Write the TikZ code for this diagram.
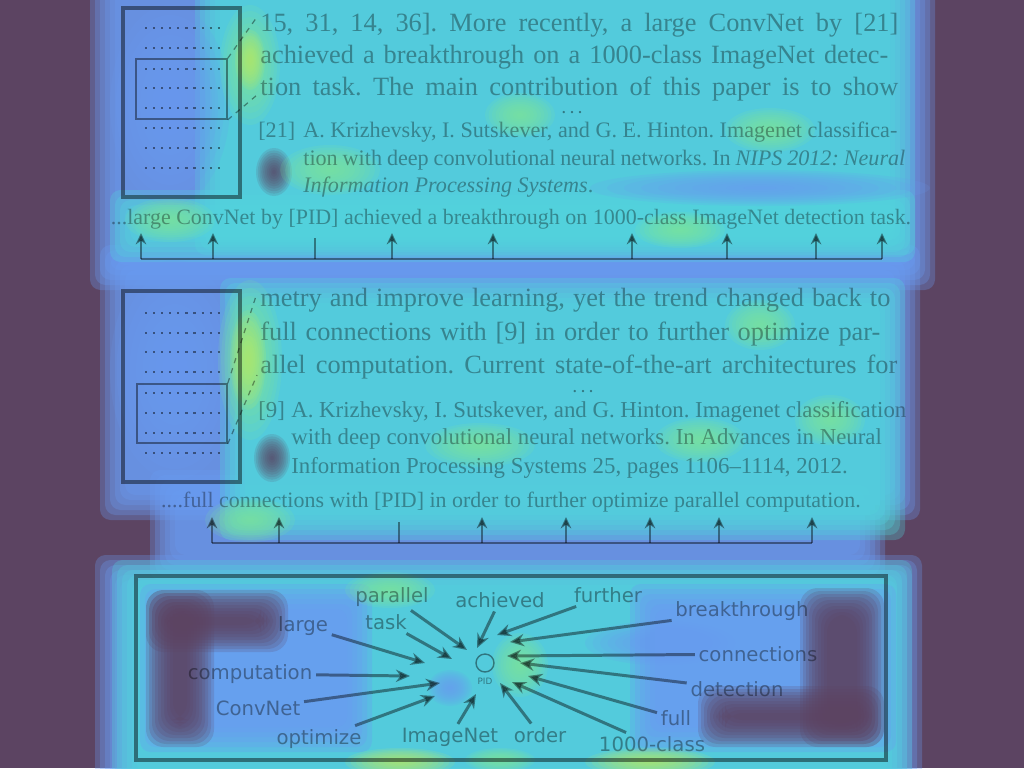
\documentclass[tikz,border=0pt]{standalone}
\usepackage{fontspec}
\setmainfont{Liberation Serif}
\newfontfamily\labelfont{DejaVu Sans}
\usetikzlibrary{arrows.meta,positioning}
\definecolor{hmpurple}{HTML}{5C4462}
\definecolor{hmblue}{HTML}{6A9CF2}
\definecolor{hmcyan}{HTML}{52D4DC}
\definecolor{hmgreen}{HTML}{7EE69A}
\definecolor{hmyellow}{HTML}{B4EA6A}
\newlength\pxu
\setlength\pxu{0.02cm}
% heat map pieces
\newcommand\softrect[5]{%
  \foreach \k in {0,...,5}{\fill[#1,opacity=0.3,rounded corners=6pt] ({#2+5*\k},{#3+5*\k}) rectangle ({#4-5*\k},{#5-5*\k});}}
\newcommand\fuzzrect[5]{%
  \foreach \k in {0,...,9}{\fill[#1,opacity=0.2,rounded corners=10pt] ({#2+3*\k},{#3+3*\k}) rectangle ({#4-3*\k},{#5-3*\k});}}
\newcommand\blob[5]{%
  \foreach \k in {1,...,10}{\fill[#1,opacity=0.15] (#2,#3) ellipse [x radius={#4*(11-\k)/10*0.02cm},y radius={#5*(11-\k)/10*0.02cm}];}}
\newcommand\jline[2]{\makebox[#1\pxu][s]{#2}}
\newcommand\gapdots{\textbf{.\kern2.6pt.\kern2.6pt.}}

\begin{document}
\frenchspacing
\begin{tikzpicture}[x=0.02cm,y=-0.02cm,
 para/.style={anchor=base west,inner sep=0pt,text opacity=0.35,font=\fontsize{15}{17}\selectfont},
 refline/.style={para,font=\fontsize{13}{15}\selectfont},
 dotsline/.style={anchor=base,inner sep=0pt,text opacity=0.4,font=\fontsize{8}{9}\selectfont},
 capline/.style={anchor=base,inner sep=0pt,text opacity=0.35,font=\fontsize{12.5}{15}\selectfont},
 pagebox/.style={draw=black,draw opacity=0.45,line width=1.8pt,inner sep=0pt},
 zoombox/.style={draw=black,draw opacity=0.42,line width=0.9pt,inner sep=0pt},
 zoomline/.style={black,opacity=0.4,line width=0.7pt,dashed},
 dotrow/.style={black,opacity=0.45,line width=1.4pt,dash pattern=on 1.2pt off 3.4pt},
 bracket/.style={black,opacity=0.42,line width=1.5pt},
 uparr/.style={bracket,-{Stealth[length=6.5pt,width=6pt]}},
 wordlab/.style={inner sep=2pt,text opacity=0.38,font=\labelfont\fontsize{11.2}{13}\selectfont},
 warr/.style={black,opacity=0.42,line width=1.7pt,-{Stealth[length=8pt,width=7pt]}}]
\useasboundingbox (0,0) rectangle (1024,768);
\fill[hmpurple] (0,0) rectangle (1024,768);

% heat map
\softrect{hmblue}{90}{-40}{935}{290}
\softrect{hmblue}{100}{245}{920}{520}
\softrect{hmblue}{150}{470}{885}{580}
\softrect{hmblue}{95}{555}{922}{800}
\softrect{hmcyan}{195}{-40}{915}{255}
\softrect{hmcyan}{110}{190}{915}{262}
\softrect{hmcyan}{220}{278}{905}{540}
\softrect{hmcyan}{112}{560}{912}{800}
\blob{hmblue}{170}{105}{60}{100}
\blob{hmgreen}{250}{65}{30}{60}
\blob{hmyellow}{250}{60}{15}{30}
\blob{hmblue}{760}{188}{170}{18}
\blob{hmpurple}{274}{172}{18}{24}
\blob{hmgreen}{520}{115}{35}{22}
\blob{hmgreen}{770}{130}{45}{22}
\blob{hmgreen}{330}{170}{50}{25}
\blob{hmgreen}{170}{220}{45}{22}
\blob{hmgreen}{680}{230}{45}{18}
\blob{hmblue}{175}{370}{65}{110}
\blob{hmgreen}{250}{360}{32}{80}
\blob{hmyellow}{248}{360}{18}{50}
\blob{hmpurple}{272}{458}{18}{24}
\blob{hmgreen}{700}{440}{45}{22}
\blob{hmgreen}{830}{420}{35}{25}
\blob{hmgreen}{480}{445}{55}{22}
\blob{hmgreen}{760}{325}{35}{25}
\blob{hmgreen}{250}{520}{45}{22}
\softrect{hmblue}{140}{584}{372}{752}
\softrect{hmblue}{630}{584}{896}{752}
\fuzzrect{hmpurple}{146}{590}{288}{652}
\fuzzrect{hmpurple}{146}{590}{214}{747}
\fuzzrect{hmpurple}{800}{588}{884}{747}
\fuzzrect{hmpurple}{698}{686}{884}{747}
\blob{hmblue}{660}{643}{75}{22}
\blob{hmblue}{450}{688}{22}{18}
\blob{hmyellow}{400}{762}{55}{14}
\blob{hmyellow}{650}{762}{65}{14}
\blob{hmgreen}{390}{590}{45}{18}
\blob{hmgreen}{520}{665}{28}{32}
\blob{hmgreen}{500}{760}{35}{12}

% first excerpt
\node[pagebox,minimum width=2.34cm,minimum height=3.78cm] (page1) at (181.5,102.5) {};
\foreach \y in {28,48,69,88,108,128,148,168}
  \draw[dotrow] (145,\y) -- (220,\y);
\node[zoombox,minimum width=1.82cm,minimum height=1.2cm] (zoom1) at (181.5,89) {};
\coordinate (z1a) at (257,17);
\coordinate (z1b) at (257,95);
\draw[zoomline] (zoom1.north east) -- (z1a);
\draw[zoomline] (zoom1.south east) -- (z1b);
\node[para] (t1l1) at (260,31) {\jline{638}{15, 31, 14, 36]. More recently, a large ConvNet by [21]}};
\node[para] (t1l2) at (260,63) {\jline{628}{achieved a breakthrough on a 1000-class ImageNet detec-}};
\node[para] (t1l3) at (260,95) {\jline{638}{tion task. The main contribution of this paper is to show}};
\node[dotsline] (t1dots) at (572,113.5) {\gapdots};
\node[refline,font=\fontsize{12.6}{15}\selectfont] (r1num) at (258,137) {[21]};
\node[refline,font=\fontsize{12.6}{15}\selectfont] (r1l1) at (303,137) {\jline{594}{A. Krizhevsky, I. Sutskever, and G. E. Hinton. Imagenet classifica-}};
\node[refline,font=\fontsize{12.6}{15}\selectfont] (r1l2) at (303,165) {\jline{602}{tion with deep convolutional neural networks. In \textit{NIPS 2012: Neural}}};
\node[refline,font=\fontsize{12.6}{15}\selectfont] (r1l3) at (303,192) {\textit{Information Processing Systems}.};
\node[capline] (cap1) at (511,224) {...large ConvNet by [PID] achieved a breakthrough on 1000-class ImageNet detection task.};
\coordinate (b1l) at (141,259);
\coordinate (b1r) at (882,259);
\draw[bracket] (b1l) -- (b1r);
\foreach \x [count=\i] in {141,213,392,493,632,727,816,882}{
  \coordinate (b1s\i) at (\x,259);
  \coordinate (b1t\i) at (\x,233);
  \draw[uparr] (b1s\i) -- (b1t\i);
}
\coordinate (b1p) at (315,238);
\draw[bracket] (b1p) -- (b1p |- b1l);

% second excerpt
\node[pagebox,minimum width=2.34cm,minimum height=3.82cm] (page2) at (181.5,386.5) {};
\foreach \y in {313,333,352,372,393,413,433,453}
  \draw[dotrow] (145,\y) -- (220,\y);
\node[zoombox,minimum width=1.8cm,minimum height=1.18cm] (zoom2) at (182,413.5) {};
\coordinate (z2a) at (257,293);
\coordinate (z2b) at (257,375);
\draw[zoomline] (zoom2.north east) -- (z2a);
\draw[zoomline] (zoom2.south east) -- (z2b);
\node[para] (t2l1) at (260,306) {\jline{630}{metry and improve learning, yet the trend changed back to}};
\node[para] (t2l2) at (260,340) {\jline{620}{full connections with [9] in order to further optimize par-}};
\node[para] (t2l3) at (260,373) {\jline{637}{allel computation. Current state-of-the-art architectures for}};
\node[dotsline] (t2dots) at (583,392.5) {\gapdots};
\node[refline] (r2num) at (258,417) {[9]};
\node[refline] (r2l1) at (291,417) {\jline{615}{A. Krizhevsky, I. Sutskever, and G. Hinton. Imagenet classification}};
\node[refline] (r2l2) at (291,444) {with deep convolutional neural networks. In Advances in Neural};
\node[refline] (r2l3) at (291,473) {Information Processing Systems 25, pages 1106--1114, 2012.};
\node[capline] (cap2) at (511,507) {....full connections with [PID] in order to further optimize parallel computation.};
\coordinate (b2l) at (212,543);
\coordinate (b2r) at (812,543);
\draw[bracket] (b2l) -- (b2r);
\foreach \x [count=\i] in {212,279,482,566,650,719,812}{
  \coordinate (b2s\i) at (\x,543);
  \coordinate (b2t\i) at (\x,517);
  \draw[uparr] (b2s\i) -- (b2t\i);
}
\coordinate (b2p) at (399,522);
\draw[bracket] (b2p) -- (b2p |- b2l);

% word panel
\node[pagebox,minimum width=15cm,minimum height=3.68cm] (words) at (511,668) {};
\node[circle,draw=black,draw opacity=0.42,line width=0.8pt,minimum size=0.36cm,inner sep=0pt] (pid) at (485,663) {};
\node[inner sep=0pt,text opacity=0.42,font=\labelfont\fontsize{5}{6}\selectfont] (pidlab) at (485,681) {PID};
\foreach \n/\t/\lx/\ly/\ex/\ey in {
  large/large/303/626/425/663,
  task/task/386/622/452/659,
  parallel/parallel/392/597/467/650,
  achieved/achieved/500/600/477/648,
  computation/computation/250/674/410/676,
  convnet/ConvNet/258/708/440/683,
  optimize/optimize/319/739/435/696,
  imagenet/ImageNet/450/737/476/694,
  further/further/608/595/497/635,
  breakthrough/breakthrough/742/611/510/642,
  connections/connections/758/654/507/656,
  detection/detection/737/689/520/663,
  full/full/676/718/528/676,
  class/1000-class/652/744/512/682,
  order/order/540/735/500/683}{
  \node[wordlab] (\n) at (\lx,\ly) {\t};
  \coordinate (\n-e) at (\ex,\ey);
  \draw[warr] (\n) -- (\n-e);
}
\end{tikzpicture}
\end{document}
